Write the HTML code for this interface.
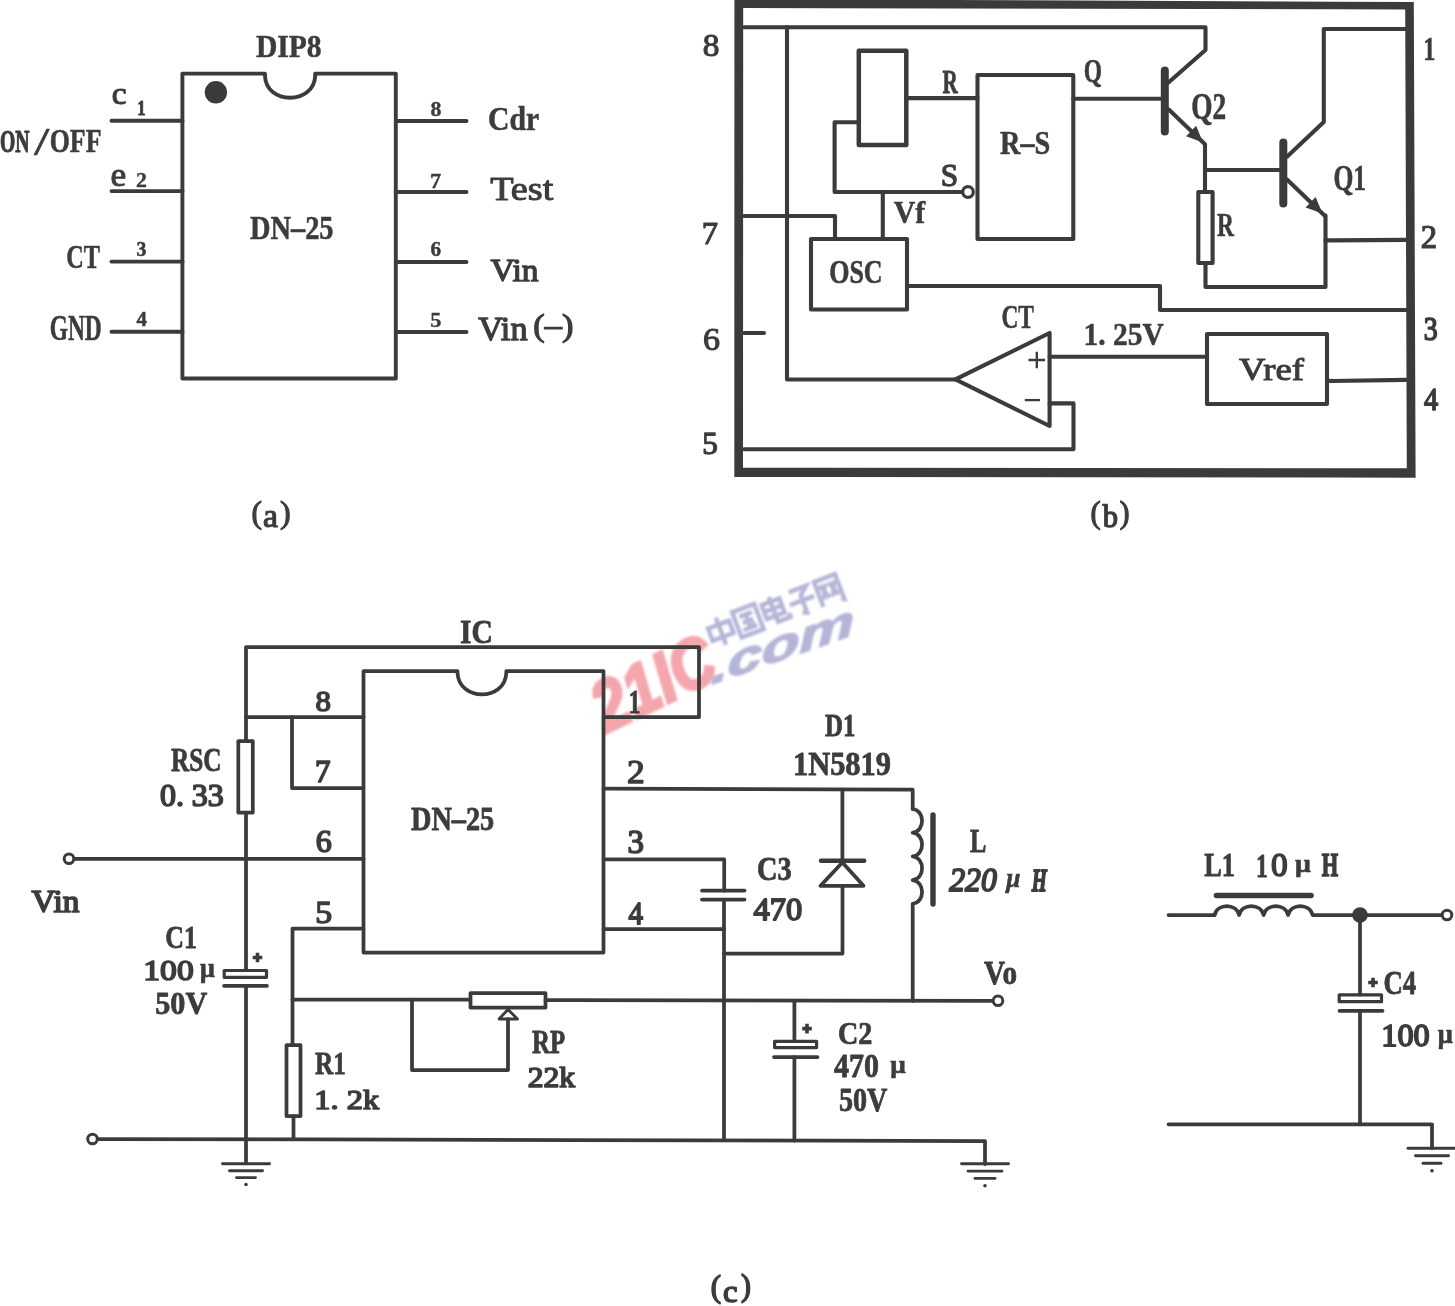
<!DOCTYPE html>
<html><head><meta charset="utf-8"><title>DN-25</title>
<style>
html,body{margin:0;padding:0;background:#fff;}
body{width:1455px;height:1306px;overflow:hidden;font-family:"Liberation Serif",serif;}
svg{display:block;}
.l{fill:none;stroke:#3b3b3b;stroke-width:3.6;stroke-linecap:round;stroke-linejoin:round;}
.f{fill:#3b3b3b;stroke:none;}
.w{fill:#fff;stroke:#3b3b3b;stroke-width:3.6;stroke-linejoin:round;}
</style></head>
<body>
<svg width="1455" height="1306" viewBox="0 0 1455 1306">
<defs><filter id="soft2" x="0" y="0" width="1455" height="1306" filterUnits="userSpaceOnUse"><feGaussianBlur stdDeviation="0.9"/></filter></defs>
<rect width="1455" height="1306" fill="#ffffff"/>
<g filter="url(#soft2)">
<g transform="translate(702.5,622) rotate(-20.8)" fill="none" stroke="#b5b5d8" stroke-width="15.5" stroke-linecap="butt" stroke-linejoin="miter">
<path transform="translate(0.0,0) scale(0.28,0.295)" d="M10,28 H90 V72 H10 Z M50,2 V100"/>
<path transform="translate(28.9,0) scale(0.28,0.295)" d="M8,5 H92 V96 H8 Z M26,28 H74 M30,51 H70 M24,75 H76 M50,28 V75 M62,60 L68,66"/>
<path transform="translate(57.8,0) scale(0.28,0.295)" d="M12,18 H80 V68 H12 Z M12,43 H80 M46,0 V90 H94 V76"/>
<path transform="translate(86.7,0) scale(0.28,0.295)" d="M16,10 H82 L52,34 V96 L36,90 M4,52 H96"/>
<path transform="translate(115.6,0) scale(0.28,0.295)" d="M10,98 V8 H90 V98 L80,92 M22,26 L44,76 M44,26 L22,76 M56,26 L78,76 M78,26 L56,76"/>
</g>
<g transform="translate(711,684.5) rotate(-19.3)"><text transform="scale(1.55,1) skewX(-12)" font-family="Liberation Sans" font-weight="bold" font-style="italic" font-size="42" fill="#b5b5d8" stroke="#b5b5d8" stroke-width="1.5">.com</text></g>
<g transform="translate(606,733) rotate(-25.8)"><text transform="scale(0.86,1)" font-family="Liberation Sans" font-weight="bold" font-style="italic" font-size="70" fill="#f4a6ad" stroke="#f4a6ad" stroke-width="3.5" letter-spacing="0.5">21IC</text></g>
</g>
<g>
<!-- (a) DIP8 package -->
<path class="l" d="M182.4,73.6 H265 V76 C266,105 314,105 315.2,76 V73.6 H395.8 V378.5 H182.4 Z" style="stroke-width:3.9"/>
<circle class="f" cx="215.9" cy="92.3" r="11.2"/>
<path class="l" d="M111.5,120.7 H182.5" style="stroke-width:3.9"/>
<path class="l" d="M111.5,191.1 H182.5" style="stroke-width:3.9"/>
<path class="l" d="M111.5,261.6 H182.5" style="stroke-width:3.9"/>
<path class="l" d="M111.5,331.7 H182.5" style="stroke-width:3.9"/>
<path class="l" d="M395.8,121 H466.5" style="stroke-width:3.9"/>
<path class="l" d="M395.8,192 H466.5" style="stroke-width:3.9"/>
<path class="l" d="M395.8,262 H466.5" style="stroke-width:3.9"/>
<path class="l" d="M395.8,332 H466.5" style="stroke-width:3.9"/>
<!-- (b) block diagram -->
<path class="f" fill-rule="evenodd" d="M734.4,-1 L1413.8,2.1 L1415.6,477.7 L734.3,476.9 Z M743.2,8.1 L743,467.7 L1406.8,468.2 L1405.2,9.4 Z"/>
<path class="l" d="M744,27.3 H1205.5 V50 L1168.5,82.5" style="stroke-width:4.1"/>
<path class="l" d="M787,27.3 V379.5 H955.4" style="stroke-width:4.1"/>
<path class="l" d="M858.8,50.7 H906.3 V145 H858.8 Z" style="stroke-width:4.5"/>
<path class="l" d="M906.3,98.1 H977.5" style="stroke-width:4.1"/>
<path class="l" d="M977.5,75 H1073.3 V239 H977.5 Z" style="stroke-width:4.1"/>
<path class="l" d="M858.8,122.3 H834.6 V192 H962" style="stroke-width:4.1"/>
<circle class="w" cx="968" cy="192" r="5.3" style="stroke-width:3.2"/>
<path class="l" d="M882.8,192 V239" style="stroke-width:4.1"/>
<path class="l" d="M811,239 H907 V309.5 H811 Z" style="stroke-width:4.1"/>
<path class="l" d="M744,216 H835 V239" style="stroke-width:4.1"/>
<path class="l" d="M907,286 H1160 V310 H1406" style="stroke-width:4.1"/>
<path class="l" d="M744,333 H764" style="stroke-width:4.1"/>
<path class="l" d="M955.4,379.4 L1049.6,333 V426 Z" style="stroke-width:4.1"/>
<path d="M1028.5,360 H1045 M1036.8,351.8 V368.2" fill="none" stroke="#3b3b3b" stroke-width="2.3"/>
<path d="M1024.8,400.1 H1040" fill="none" stroke="#3b3b3b" stroke-width="2.3"/>
<path class="l" d="M1049.6,356.7 H1207" style="stroke-width:4.1"/>
<path class="l" d="M1207,334 H1327 V404 H1207 Z" style="stroke-width:4.1"/>
<path class="l" d="M1327,381 L1406,379.9" style="stroke-width:4.1"/>
<path class="l" d="M744,449.2 H1073.5 V403.4 H1049.6" style="stroke-width:4.1"/>
<path class="l" d="M1073.3,98.7 H1163" style="stroke-width:4.1"/>
<path class="l" d="M1164.8,70.5 V131.5" style="stroke-width:8"/>
<path class="l" d="M1168.5,109.3 L1205,144.3 V192" style="stroke-width:4.1"/>
<path class="f" d="M1203.0,142.4 L1186.1,136.2 L1196.1,125.7 Z" stroke="#3b3b3b" stroke-width="1.5" stroke-linejoin="round"/>
<path class="l" d="M1198.3,192 H1212.6 V263 H1198.3 Z" style="stroke-width:4.1"/>
<path class="l" d="M1205.5,263 V287 H1325.5 V215.5" style="stroke-width:4.1"/>
<path class="l" d="M1205,170 H1281" style="stroke-width:4.1"/>
<path class="l" d="M1283.3,142.5 V203.5" style="stroke-width:8"/>
<path class="l" d="M1287,156.7 L1323.8,122 V29 H1406" style="stroke-width:4.1"/>
<path class="l" d="M1287,179.4 L1324.5,215.5" style="stroke-width:4.1"/>
<path class="f" d="M1322.5,213.6 L1305.6,207.4 L1315.6,196.9 Z" stroke="#3b3b3b" stroke-width="1.5" stroke-linejoin="round"/>
<path class="l" d="M1325.5,240.4 L1406,239.9" style="stroke-width:4.1"/>
<!-- (c) application circuit -->
<path class="l" d="M363.5,671 H457.5 V673 C459,701.5 505,701.5 506.3,673 V671 H603.5 V952.5 H363.5 Z" style="stroke-width:3.75"/>
<path class="l" d="M246,812.5 V969 M246,741 V647 H699 V717 H603.5" style="stroke-width:3.75"/>
<path class="l" d="M246,717 H363.5" style="stroke-width:3.75"/>
<path class="l" d="M292,717 V788 H363.5" style="stroke-width:3.75"/>
<path class="l" d="M238.3,741 H252.8 V812.5 H238.3 Z" style="stroke-width:3.75"/>
<path class="l" d="M74.5,858.8 H363.5" style="stroke-width:3.75"/>
<circle class="w" cx="69" cy="858.8" r="4.8" style="stroke-width:3"/>
<path class="l" d="M224.2,970.5 H266.5 V977.3 H224.2 Z" style="stroke-width:3.2"/>
<path class="l" d="M224,985.8 H267" style="stroke-width:3.75"/>
<path class="l" d="M246,985.8 V1163" style="stroke-width:3.75"/>
<path d="M252.7,957.5 H262.3 M257.5,952.7 V962.3" fill="none" stroke="#3b3b3b" stroke-width="3.6"/>
<path class="l" d="M98,1139 L985,1141 V1164" style="stroke-width:3.75"/>
<circle class="w" cx="92.5" cy="1139" r="4.8" style="stroke-width:3"/>
<path class="l" d="M222.5,1163.8 H269.5" style="stroke-width:2.9"/>
<path class="l" d="M229.5,1170.7 H262.5" style="stroke-width:2.9"/>
<path class="l" d="M236.5,1177.6 H255.5" style="stroke-width:2.9"/>
<circle class="f" cx="246" cy="1184.5" r="1.8"/>
<path class="l" d="M961.5,1163.8 H1008.5" style="stroke-width:2.9"/>
<path class="l" d="M968.0,1171.1 H1002.0" style="stroke-width:2.9"/>
<path class="l" d="M975.0,1178.4 H995.0" style="stroke-width:2.9"/>
<circle class="f" cx="985" cy="1185.7" r="1.8"/>
<path class="l" d="M363.5,928.5 H292.5 V1045" style="stroke-width:3.75"/>
<path class="l" d="M286.5,1045 H300.5 V1116 H286.5 Z" style="stroke-width:3.75"/>
<path class="l" d="M293.5,1116 V1139" style="stroke-width:3.75"/>
<path class="l" d="M292.5,999.5 H470" style="stroke-width:3.75"/>
<path class="l" d="M470.5,993 H545.5 V1007.5 H470.5 Z" style="stroke-width:3.75"/>
<path class="l" d="M545.5,1000.2 L993,1000.8" style="stroke-width:3.75"/>
<path class="l" d="M412,999.5 V1070 H508 V1019" style="stroke-width:3.75"/>
<path class="l" d="M499,1019 L508,1009.5 L517.5,1019 Z" style="stroke-width:2.8"/>
<path class="l" d="M603.5,788.5 L912.7,789.6 V809" style="stroke-width:3.75"/>
<path class="l" d="M603.5,859.3 H724.2 V890.5" style="stroke-width:3.75"/>
<path class="l" d="M702,890.5 H744.5" style="stroke-width:3.75"/>
<path class="l" d="M702,899.6 H744.5" style="stroke-width:3.75"/>
<path class="l" d="M724,899.6 V1140" style="stroke-width:3.75"/>
<path class="l" d="M603.5,929 H724" style="stroke-width:3.75"/>
<path class="l" d="M842.4,789.6 V860.5" style="stroke-width:3.75"/>
<path class="l" d="M821,860.8 H864.2" style="stroke-width:4.4"/>
<path class="l" d="M842.4,862.5 L820.5,885.8 H863.5 Z" style="stroke-width:3.75"/>
<path class="l" d="M842.5,885.8 V953.5 H724" style="stroke-width:3.75"/>
<path class="l" d="M912.7,809 c12.5,1.5 12.5,22.2 0,23.7 c12.5,1.5 12.5,22.2 0,23.7 c12.5,1.5 12.5,22.2 0,23.7 c12.5,1.5 12.5,22.2 0,23.7 V1000.8" style="stroke-width:3.75"/>
<path class="l" d="M933,815 V904" style="stroke-width:5.4"/>
<circle class="w" cx="998" cy="1000.8" r="4.8" style="stroke-width:3"/>
<path class="l" d="M794.4,1000.8 V1040" style="stroke-width:3.75"/>
<path class="l" d="M774.6,1041.3 H816.6 V1047.6 H774.6 Z" style="stroke-width:3.2"/>
<path class="l" d="M774,1057 H817.5" style="stroke-width:3.75"/>
<path class="l" d="M794.4,1057 V1140.5" style="stroke-width:3.75"/>
<path d="M802.2,1028.6 H811.8 M807,1023.8 V1033.3999999999999" fill="none" stroke="#3b3b3b" stroke-width="3.6"/>
<path class="l" d="M1168.5,915 H1214.6" style="stroke-width:3.75"/>
<path class="l" d="M1214.6,915 c3,-11.8 21.5,-11.8 24.5,0 c3,-11.8 21.5,-11.8 24.5,0 c3,-11.8 21.5,-11.8 24.5,0 c3,-11.8 21.5,-11.8 24.5,0 H1442" style="stroke-width:3.75"/>
<path class="l" d="M1216.5,895.5 H1311" style="stroke-width:5.6"/>
<circle class="w" cx="1447" cy="915" r="4.8" style="stroke-width:3"/>
<circle class="f" cx="1360" cy="915" r="7.8"/>
<path class="l" d="M1360,915 V994.5" style="stroke-width:3.75"/>
<path class="l" d="M1339.2,994.8 H1381.5 V1001.7 H1339.2 Z" style="stroke-width:3.2"/>
<path class="l" d="M1339.5,1010.8 H1382.5" style="stroke-width:3.75"/>
<path class="l" d="M1360,1010.8 V1124.3" style="stroke-width:3.75"/>
<path d="M1368.2,982.5 H1377.8 M1373,977.7 V987.3" fill="none" stroke="#3b3b3b" stroke-width="3.6"/>
<path class="l" d="M1168.5,1124.3 H1432 V1148" style="stroke-width:3.75"/>
<path class="l" d="M1408.0,1148.3 H1456.0" style="stroke-width:2.9"/>
<path class="l" d="M1415.5,1155.8 H1448.5" style="stroke-width:2.9"/>
<path class="l" d="M1423.0,1163.3 H1441.0" style="stroke-width:2.9"/>
<circle class="f" cx="1432" cy="1170.8" r="1.8"/>
</g>
<g style="opacity:0.995">
<text transform="matrix(0.2957 0 0 0.3159 255.94 57.11)" font-family="Liberation Serif" font-weight="bold" stroke="#3b3b3b" stroke-width="1.60" stroke-linejoin="round" font-size="100" fill="#3b3b3b">DIP8</text>
<text transform="matrix(0.3336 0 0 0.3147 111.84 103.79)" font-family="Liberation Serif" font-weight="normal" stroke="#3b3b3b" stroke-width="3.52" stroke-linejoin="round" font-size="100" fill="#3b3b3b">c</text>
<text transform="matrix(0.1565 0 0 0.2069 137.45 115.08)" font-family="Liberation Serif" font-weight="bold" stroke="#3b3b3b" stroke-width="5.50" stroke-linejoin="round" font-size="100" fill="#3b3b3b">1</text>
<text transform="matrix(0.1963 0 0 0.3232 0.10 151.99)" font-family="Liberation Serif" font-weight="bold" stroke="#3b3b3b" stroke-width="3.85" stroke-linejoin="round" font-size="100" fill="#3b3b3b">ON</text>
<text transform="matrix(0.5556 0 0 0.4094 33.97 154.75)" font-family="Liberation Serif" font-weight="normal" stroke="#3b3b3b" stroke-width="1.60" stroke-linejoin="round" font-size="100" fill="#3b3b3b">/</text>
<text transform="matrix(0.2584 0 0 0.3346 49.77 152.36)" font-family="Liberation Serif" font-weight="bold" stroke="#3b3b3b" stroke-width="1.60" stroke-linejoin="round" font-size="100" fill="#3b3b3b">OFF</text>
<text transform="matrix(0.3532 0 0 0.3354 110.53 186.31)" font-family="Liberation Serif" font-weight="normal" stroke="#3b3b3b" stroke-width="3.07" stroke-linejoin="round" font-size="100" fill="#3b3b3b">e</text>
<text transform="matrix(0.2190 0 0 0.2151 135.92 186.59)" font-family="Liberation Serif" font-weight="bold" stroke="#3b3b3b" stroke-width="1.75" stroke-linejoin="round" font-size="100" fill="#3b3b3b">2</text>
<text transform="matrix(0.2429 0 0 0.3360 66.22 268.05)" font-family="Liberation Serif" font-weight="bold" stroke="#3b3b3b" stroke-width="1.60" stroke-linejoin="round" font-size="100" fill="#3b3b3b">CT</text>
<text transform="matrix(0.1968 0 0 0.2009 136.53 256.28)" font-family="Liberation Serif" font-weight="bold" stroke="#3b3b3b" stroke-width="3.03" stroke-linejoin="round" font-size="100" fill="#3b3b3b">3</text>
<text transform="matrix(0.2342 0 0 0.3518 49.75 339.51)" font-family="Liberation Serif" font-weight="bold" stroke="#3b3b3b" stroke-width="1.60" stroke-linejoin="round" font-size="100" fill="#3b3b3b">GND</text>
<text transform="matrix(0.2076 0 0 0.2086 136.56 326.33)" font-family="Liberation Serif" font-weight="bold" stroke="#3b3b3b" stroke-width="2.46" stroke-linejoin="round" font-size="100" fill="#3b3b3b">4</text>
<text transform="matrix(0.2842 0 0 0.3351 249.94 239.39)" font-family="Liberation Serif" font-weight="bold" stroke="#3b3b3b" stroke-width="1.60" stroke-linejoin="round" font-size="100" fill="#3b3b3b">DN–25</text>
<text transform="matrix(0.2178 0 0 0.2075 430.56 116.39)" font-family="Liberation Serif" font-weight="bold" stroke="#3b3b3b" stroke-width="1.84" stroke-linejoin="round" font-size="100" fill="#3b3b3b">8</text>
<text transform="matrix(0.2239 0 0 0.2070 430.07 187.62)" font-family="Liberation Serif" font-weight="bold" stroke="#3b3b3b" stroke-width="1.60" stroke-linejoin="round" font-size="100" fill="#3b3b3b">7</text>
<text transform="matrix(0.2114 0 0 0.2063 430.61 256.35)" font-family="Liberation Serif" font-weight="bold" stroke="#3b3b3b" stroke-width="2.20" stroke-linejoin="round" font-size="100" fill="#3b3b3b">6</text>
<text transform="matrix(0.2239 0 0 0.2144 430.29 327.11)" font-family="Liberation Serif" font-weight="bold" stroke="#3b3b3b" stroke-width="1.60" stroke-linejoin="round" font-size="100" fill="#3b3b3b">5</text>
<text transform="matrix(0.2968 0 0 0.3373 488.05 129.55)" font-family="Liberation Serif" font-weight="bold" stroke="#3b3b3b" stroke-width="1.60" stroke-linejoin="round" font-size="100" fill="#3b3b3b">Cdr</text>
<text transform="matrix(0.3823 0 0 0.3329 490.19 199.65)" font-family="Liberation Serif" font-weight="normal" stroke="#3b3b3b" stroke-width="2.95" stroke-linejoin="round" font-size="100" fill="#3b3b3b">Test</text>
<text transform="matrix(0.3350 0 0 0.3177 490.38 280.67)" font-family="Liberation Serif" font-weight="normal" stroke="#3b3b3b" stroke-width="4.13" stroke-linejoin="round" font-size="100" fill="#3b3b3b">Vin</text>
<text transform="matrix(0.3431 0 0 0.3271 478.15 339.67)" font-family="Liberation Serif" font-weight="normal" stroke="#3b3b3b" stroke-width="3.90" stroke-linejoin="round" font-size="100" fill="#3b3b3b">Vin</text>
<text transform="matrix(0.3439 0 0 0.3157 533.30 336.33)" font-family="Liberation Serif" font-weight="normal" stroke="#3b3b3b" stroke-width="3.80" stroke-linejoin="round" font-size="100" fill="#3b3b3b">(–)</text>
<text transform="matrix(0.3143 0 0 0.3133 251.40 522.62)" font-family="Liberation Serif" font-weight="normal" stroke="#3b3b3b" stroke-width="3.62" stroke-linejoin="round" font-size="100" fill="#3b3b3b">(</text>
<text transform="matrix(0.3371 0 0 0.3401 263.03 526.92)" font-family="Liberation Serif" font-weight="normal" stroke="#3b3b3b" stroke-width="3.47" stroke-linejoin="round" font-size="100" fill="#3b3b3b">a</text>
<text transform="matrix(0.3202 0 0 0.3139 280.08 522.63)" font-family="Liberation Serif" font-weight="normal" stroke="#3b3b3b" stroke-width="3.45" stroke-linejoin="round" font-size="100" fill="#3b3b3b">)</text>
<text transform="matrix(0.3339 0 0 0.3134 702.65 55.78)" font-family="Liberation Serif" font-weight="normal" stroke="#3b3b3b" stroke-width="3.60" stroke-linejoin="round" font-size="100" fill="#3b3b3b">8</text>
<text transform="matrix(0.3250 0 0 0.3071 701.72 244.08)" font-family="Liberation Serif" font-weight="normal" stroke="#3b3b3b" stroke-width="3.78" stroke-linejoin="round" font-size="100" fill="#3b3b3b">7</text>
<text transform="matrix(0.3404 0 0 0.3106 703.03 349.81)" font-family="Liberation Serif" font-weight="normal" stroke="#3b3b3b" stroke-width="3.45" stroke-linejoin="round" font-size="100" fill="#3b3b3b">6</text>
<text transform="matrix(0.3113 0 0 0.3151 702.16 453.68)" font-family="Liberation Serif" font-weight="normal" stroke="#3b3b3b" stroke-width="4.13" stroke-linejoin="round" font-size="100" fill="#3b3b3b">5</text>
<text transform="matrix(0.2431 0 0 0.3445 1423.26 60.22)" font-family="Liberation Serif" font-weight="bold" stroke="#3b3b3b" stroke-width="1.60" stroke-linejoin="round" font-size="100" fill="#3b3b3b">1</text>
<text transform="matrix(0.3258 0 0 0.3340 1420.87 247.50)" font-family="Liberation Serif" font-weight="normal" stroke="#3b3b3b" stroke-width="3.74" stroke-linejoin="round" font-size="100" fill="#3b3b3b">2</text>
<text transform="matrix(0.2789 0 0 0.3279 1423.69 340.34)" font-family="Liberation Serif" font-weight="normal" stroke="#3b3b3b" stroke-width="5.08" stroke-linejoin="round" font-size="100" fill="#3b3b3b">3</text>
<text transform="matrix(0.2832 0 0 0.3175 1424.12 410.01)" font-family="Liberation Serif" font-weight="normal" stroke="#3b3b3b" stroke-width="5.07" stroke-linejoin="round" font-size="100" fill="#3b3b3b">4</text>
<text transform="matrix(0.2119 0 0 0.3386 942.55 92.84)" font-family="Liberation Serif" font-weight="bold" stroke="#3b3b3b" stroke-width="2.43" stroke-linejoin="round" font-size="100" fill="#3b3b3b">R</text>
<text transform="matrix(0.3131 0 0 0.3219 940.63 186.15)" font-family="Liberation Serif" font-weight="normal" stroke="#3b3b3b" stroke-width="4.12" stroke-linejoin="round" font-size="100" fill="#3b3b3b">S</text>
<text transform="matrix(0.2991 0 0 0.3082 893.69 223.13)" font-family="Liberation Serif" font-weight="bold" stroke="#3b3b3b" stroke-width="1.60" stroke-linejoin="round" font-size="100" fill="#3b3b3b">Vf</text>
<text transform="matrix(0.2602 0 0 0.3446 829.17 283.03)" font-family="Liberation Serif" font-weight="bold" stroke="#3b3b3b" stroke-width="1.60" stroke-linejoin="round" font-size="100" fill="#3b3b3b">OSC</text>
<text transform="matrix(0.2831 0 0 0.3331 999.95 153.76)" font-family="Liberation Serif" font-weight="bold" stroke="#3b3b3b" stroke-width="1.60" stroke-linejoin="round" font-size="100" fill="#3b3b3b">R–S</text>
<text transform="matrix(0.2345 0 0 0.3415 1083.65 81.60)" font-family="Liberation Serif" font-weight="bold" stroke="#3b3b3b" stroke-width="1.60" stroke-linejoin="round" font-size="100" fill="#3b3b3b">Q</text>
<text transform="matrix(0.2735 0 0 0.3778 1191.13 119.00)" font-family="Liberation Serif" font-weight="bold" stroke="#3b3b3b" stroke-width="1.60" stroke-linejoin="round" font-size="100" fill="#3b3b3b">Q2</text>
<text transform="matrix(0.2558 0 0 0.3612 1333.38 190.00)" font-family="Liberation Serif" font-weight="bold" stroke="#3b3b3b" stroke-width="1.60" stroke-linejoin="round" font-size="100" fill="#3b3b3b">Q1</text>
<text transform="matrix(0.2345 0 0 0.3386 1216.96 235.88)" font-family="Liberation Serif" font-weight="bold" stroke="#3b3b3b" stroke-width="1.60" stroke-linejoin="round" font-size="100" fill="#3b3b3b">R</text>
<text transform="matrix(0.2341 0 0 0.3331 1001.45 328.26)" font-family="Liberation Serif" font-weight="bold" stroke="#3b3b3b" stroke-width="1.60" stroke-linejoin="round" font-size="100" fill="#3b3b3b">CT</text>
<text transform="matrix(0.2948 0 0 0.3245 1083.58 345.09)" font-family="Liberation Serif" font-weight="bold" stroke="#3b3b3b" stroke-width="1.60" stroke-linejoin="round" font-size="100" fill="#3b3b3b">1. 25V</text>
<text transform="matrix(0.3666 0 0 0.3072 1238.96 380.15)" font-family="Liberation Serif" font-weight="normal" stroke="#3b3b3b" stroke-width="3.33" stroke-linejoin="round" font-size="100" fill="#3b3b3b">Vref</text>
<text transform="matrix(0.3052 0 0 0.3125 1090.46 522.60)" font-family="Liberation Serif" font-weight="normal" stroke="#3b3b3b" stroke-width="3.83" stroke-linejoin="round" font-size="100" fill="#3b3b3b">(</text>
<text transform="matrix(0.3046 0 0 0.3226 1102.84 526.82)" font-family="Liberation Serif" font-weight="normal" stroke="#3b3b3b" stroke-width="4.41" stroke-linejoin="round" font-size="100" fill="#3b3b3b">b</text>
<text transform="matrix(0.2916 0 0 0.3116 1119.83 522.58)" font-family="Liberation Serif" font-weight="normal" stroke="#3b3b3b" stroke-width="4.10" stroke-linejoin="round" font-size="100" fill="#3b3b3b">)</text>
<text transform="matrix(0.2950 0 0 0.3334 459.98 643.42)" font-family="Liberation Serif" font-weight="bold" stroke="#3b3b3b" stroke-width="2.40" stroke-linejoin="round" font-size="100" fill="#3b3b3b">IC</text>
<text transform="matrix(0.3082 0 0 0.3041 315.54 711.48)" font-family="Liberation Serif" font-weight="normal" stroke="#3b3b3b" stroke-width="5.50" stroke-linejoin="round" font-size="100" fill="#3b3b3b">8</text>
<text transform="matrix(0.3107 0 0 0.3162 315.11 782.49)" font-family="Liberation Serif" font-weight="normal" stroke="#3b3b3b" stroke-width="5.46" stroke-linejoin="round" font-size="100" fill="#3b3b3b">7</text>
<text transform="matrix(0.3202 0 0 0.3087 315.67 852.25)" font-family="Liberation Serif" font-weight="normal" stroke="#3b3b3b" stroke-width="5.25" stroke-linejoin="round" font-size="100" fill="#3b3b3b">6</text>
<text transform="matrix(0.3381 0 0 0.3191 315.21 922.55)" font-family="Liberation Serif" font-weight="normal" stroke="#3b3b3b" stroke-width="4.73" stroke-linejoin="round" font-size="100" fill="#3b3b3b">5</text>
<text transform="matrix(0.2401 0 0 0.3322 628.39 713.34)" font-family="Liberation Serif" font-weight="bold" stroke="#3b3b3b" stroke-width="2.40" stroke-linejoin="round" font-size="100" fill="#3b3b3b">1</text>
<text transform="matrix(0.3548 0 0 0.3283 626.93 783.42)" font-family="Liberation Serif" font-weight="normal" stroke="#3b3b3b" stroke-width="4.30" stroke-linejoin="round" font-size="100" fill="#3b3b3b">2</text>
<text transform="matrix(0.3289 0 0 0.3271 627.61 853.47)" font-family="Liberation Serif" font-weight="normal" stroke="#3b3b3b" stroke-width="4.99" stroke-linejoin="round" font-size="100" fill="#3b3b3b">3</text>
<text transform="matrix(0.2905 0 0 0.3194 628.61 923.72)" font-family="Liberation Serif" font-weight="normal" stroke="#3b3b3b" stroke-width="5.50" stroke-linejoin="round" font-size="100" fill="#3b3b3b">4</text>
<text transform="matrix(0.2826 0 0 0.3382 411.06 830.24)" font-family="Liberation Serif" font-weight="bold" stroke="#3b3b3b" stroke-width="2.40" stroke-linejoin="round" font-size="100" fill="#3b3b3b">DN–25</text>
<text transform="matrix(0.2522 0 0 0.3296 171.06 770.92)" font-family="Liberation Serif" font-weight="bold" stroke="#3b3b3b" stroke-width="2.44" stroke-linejoin="round" font-size="100" fill="#3b3b3b">RSC</text>
<text transform="matrix(0.3193 0 0 0.3109 159.95 806.45)" font-family="Liberation Serif" font-weight="normal" stroke="#3b3b3b" stroke-width="5.50" stroke-linejoin="round" font-size="100" fill="#3b3b3b">0. 33</text>
<text transform="matrix(0.3317 0 0 0.3075 31.62 912.21)" font-family="Liberation Serif" font-weight="normal" stroke="#3b3b3b" stroke-width="5.50" stroke-linejoin="round" font-size="100" fill="#3b3b3b">Vin</text>
<text transform="matrix(0.2594 0 0 0.3228 165.28 947.70)" font-family="Liberation Serif" font-weight="bold" stroke="#3b3b3b" stroke-width="2.40" stroke-linejoin="round" font-size="100" fill="#3b3b3b">C1</text>
<text transform="matrix(0.3368 0 0 0.3007 143.27 979.50)" font-family="Liberation Serif" font-weight="normal" stroke="#3b3b3b" stroke-width="5.50" stroke-linejoin="round" font-size="100" fill="#3b3b3b">100</text>
<text transform="matrix(0.2608 0 0 0.2698 200.07 976.50)" font-family="Liberation Serif" font-weight="bold" stroke="#3b3b3b" stroke-width="2.40" stroke-linejoin="round" font-size="100" fill="#3b3b3b">μ</text>
<text transform="matrix(0.3022 0 0 0.3192 155.16 1013.96)" font-family="Liberation Serif" font-weight="bold" stroke="#3b3b3b" stroke-width="2.40" stroke-linejoin="round" font-size="100" fill="#3b3b3b">50V</text>
<text transform="matrix(0.2528 0 0 0.3238 315.06 1074.27)" font-family="Liberation Serif" font-weight="bold" stroke="#3b3b3b" stroke-width="2.40" stroke-linejoin="round" font-size="100" fill="#3b3b3b">R1</text>
<text transform="matrix(0.3238 0 0 0.2797 314.33 1108.89)" font-family="Liberation Serif" font-weight="normal" stroke="#3b3b3b" stroke-width="5.50" stroke-linejoin="round" font-size="100" fill="#3b3b3b">1. 2k</text>
<text transform="matrix(0.2484 0 0 0.3313 532.08 1052.98)" font-family="Liberation Serif" font-weight="bold" stroke="#3b3b3b" stroke-width="2.57" stroke-linejoin="round" font-size="100" fill="#3b3b3b">RP</text>
<text transform="matrix(0.3164 0 0 0.2896 527.64 1086.85)" font-family="Liberation Serif" font-weight="normal" stroke="#3b3b3b" stroke-width="5.50" stroke-linejoin="round" font-size="100" fill="#3b3b3b">22k</text>
<text transform="matrix(0.2473 0 0 0.3256 825.08 735.93)" font-family="Liberation Serif" font-weight="bold" stroke="#3b3b3b" stroke-width="2.60" stroke-linejoin="round" font-size="100" fill="#3b3b3b">D1</text>
<text transform="matrix(0.3045 0 0 0.3362 792.93 775.31)" font-family="Liberation Serif" font-weight="bold" stroke="#3b3b3b" stroke-width="2.40" stroke-linejoin="round" font-size="100" fill="#3b3b3b">1N5819</text>
<text transform="matrix(0.2838 0 0 0.3462 756.91 879.88)" font-family="Liberation Serif" font-weight="bold" stroke="#3b3b3b" stroke-width="2.40" stroke-linejoin="round" font-size="100" fill="#3b3b3b">C3</text>
<text transform="matrix(0.3250 0 0 0.3217 753.60 920.39)" font-family="Liberation Serif" font-weight="normal" stroke="#3b3b3b" stroke-width="5.50" stroke-linejoin="round" font-size="100" fill="#3b3b3b">470</text>
<text transform="matrix(0.2446 0 0 0.3441 970.07 852.01)" font-family="Liberation Serif" font-weight="bold" stroke="#3b3b3b" stroke-width="2.48" stroke-linejoin="round" font-size="100" fill="#3b3b3b">L</text>
<text transform="matrix(0.3174 0 0 0.3325 949.21 890.64)" font-family="Liberation Serif" font-weight="normal" font-style="italic" stroke="#3b3b3b" stroke-width="5.50" stroke-linejoin="round" font-size="100" fill="#3b3b3b">220</text>
<text transform="matrix(0.2545 0 0 0.2734 1006.19 887.42)" font-family="Liberation Serif" font-weight="bold" font-style="italic" stroke="#3b3b3b" stroke-width="2.40" stroke-linejoin="round" font-size="100" fill="#3b3b3b">μ</text>
<text transform="matrix(0.1934 0 0 0.3236 1031.76 890.51)" font-family="Liberation Serif" font-weight="bold" font-style="italic" stroke="#3b3b3b" stroke-width="5.50" stroke-linejoin="round" font-size="100" fill="#3b3b3b">H</text>
<text transform="matrix(0.2924 0 0 0.3281 984.07 984.44)" font-family="Liberation Serif" font-weight="bold" stroke="#3b3b3b" stroke-width="2.40" stroke-linejoin="round" font-size="100" fill="#3b3b3b">Vo</text>
<text transform="matrix(0.2811 0 0 0.3121 838.02 1043.99)" font-family="Liberation Serif" font-weight="bold" stroke="#3b3b3b" stroke-width="2.40" stroke-linejoin="round" font-size="100" fill="#3b3b3b">C2</text>
<text transform="matrix(0.2998 0 0 0.3334 834.07 1077.42)" font-family="Liberation Serif" font-weight="bold" stroke="#3b3b3b" stroke-width="2.40" stroke-linejoin="round" font-size="100" fill="#3b3b3b">470</text>
<text transform="matrix(0.2730 0 0 0.2619 890.37 1073.37)" font-family="Liberation Serif" font-weight="bold" stroke="#3b3b3b" stroke-width="2.40" stroke-linejoin="round" font-size="100" fill="#3b3b3b">μ</text>
<text transform="matrix(0.2816 0 0 0.3291 838.92 1110.93)" font-family="Liberation Serif" font-weight="bold" stroke="#3b3b3b" stroke-width="2.40" stroke-linejoin="round" font-size="100" fill="#3b3b3b">50V</text>
<text transform="matrix(0.2625 0 0 0.3411 1204.36 876.23)" font-family="Liberation Serif" font-weight="bold" stroke="#3b3b3b" stroke-width="2.40" stroke-linejoin="round" font-size="100" fill="#3b3b3b">L1</text>
<text transform="matrix(0.2367 0 0 0.3453 1256.03 876.55)" font-family="Liberation Serif" font-weight="bold" stroke="#3b3b3b" stroke-width="2.53" stroke-linejoin="round" font-size="100" fill="#3b3b3b">1</text>
<text transform="matrix(0.3332 0 0 0.3316 1270.92 875.76)" font-family="Liberation Serif" font-weight="normal" stroke="#3b3b3b" stroke-width="4.90" stroke-linejoin="round" font-size="100" fill="#3b3b3b">0</text>
<text transform="matrix(0.2782 0 0 0.2619 1295.07 871.77)" font-family="Liberation Serif" font-weight="bold" stroke="#3b3b3b" stroke-width="2.40" stroke-linejoin="round" font-size="100" fill="#3b3b3b">μ</text>
<text transform="matrix(0.2112 0 0 0.3337 1321.71 875.83)" font-family="Liberation Serif" font-weight="bold" stroke="#3b3b3b" stroke-width="4.67" stroke-linejoin="round" font-size="100" fill="#3b3b3b">H</text>
<text transform="matrix(0.2682 0 0 0.3291 1383.46 994.13)" font-family="Liberation Serif" font-weight="bold" stroke="#3b3b3b" stroke-width="2.40" stroke-linejoin="round" font-size="100" fill="#3b3b3b">C4</text>
<text transform="matrix(0.3227 0 0 0.3257 1381.34 1046.07)" font-family="Liberation Serif" font-weight="normal" stroke="#3b3b3b" stroke-width="5.50" stroke-linejoin="round" font-size="100" fill="#3b3b3b">100</text>
<text transform="matrix(0.2643 0 0 0.2806 1437.87 1042.56)" font-family="Liberation Serif" font-weight="bold" stroke="#3b3b3b" stroke-width="2.40" stroke-linejoin="round" font-size="100" fill="#3b3b3b">μ</text>
<text transform="matrix(0.3104 0 0 0.3090 710.67 1296.52)" font-family="Liberation Serif" font-weight="normal" stroke="#3b3b3b" stroke-width="4.82" stroke-linejoin="round" font-size="100" fill="#3b3b3b">(</text>
<text transform="matrix(0.3271 0 0 0.3179 722.94 1302.01)" font-family="Liberation Serif" font-weight="normal" stroke="#3b3b3b" stroke-width="4.92" stroke-linejoin="round" font-size="100" fill="#3b3b3b">c</text>
<text transform="matrix(0.2972 0 0 0.3081 741.05 1296.49)" font-family="Liberation Serif" font-weight="normal" stroke="#3b3b3b" stroke-width="5.07" stroke-linejoin="round" font-size="100" fill="#3b3b3b">)</text>
</g>
</svg>
</body></html>
